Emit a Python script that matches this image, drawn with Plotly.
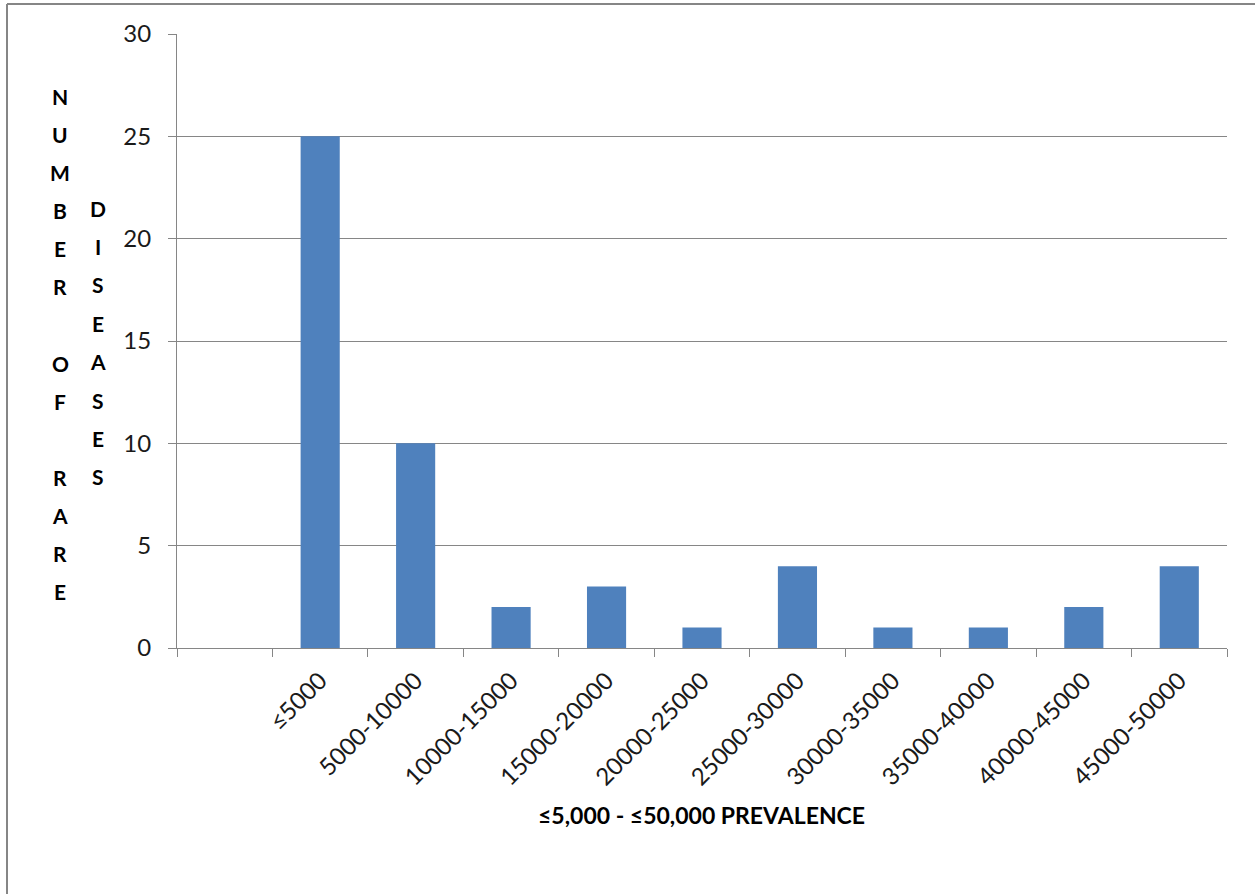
import plotly.graph_objects as go

categories = [" ", "≤5000", "5000-10000", "10000-15000", "15000-20000", "20000-25000",
              "25000-30000", "30000-35000", "35000-40000", "40000-45000", "45000-50000"]
counts = [None, 25, 10, 2, 3, 1, 4, 1, 1, 2, 4]
y_ticks = [0, 5, 10, 15, 20, 25, 30]
x_title = "≤5,000 - ≤50,000 PREVALENCE"
y_title_col1 = list("NUMBER") + [" "] + list("OF") + [" "] + list("RARE")
y_title_col2 = list("DISEASES")

W, H = 1255, 894
L, R, T, B = 177, 1227, 34, 648
FONT = "Lato"
GRID = "#868686"

def pxx(px):
    return (px - L) / (R - L)

def pxy(py):
    return (B - py) / (B - T)

fig = go.Figure()
fig.add_trace(go.Bar(x=categories, y=counts, marker=dict(color="#4F81BD", line=dict(width=0)),
                     hoverinfo="x+y"))

annotations = []
for i, ch in enumerate(y_title_col1):
    if ch.strip():
        annotations.append(dict(text=ch, x=pxx(60), y=pxy(96 + i * 38.15), xref="paper", yref="paper",
                                showarrow=False, xanchor="center", yanchor="middle",
                                font=dict(family=FONT, size=21, color="#000000", weight="bold")))
for i, ch in enumerate(y_title_col2):
    annotations.append(dict(text=ch, x=pxx(98), y=pxy(208 + i * 38.4), xref="paper", yref="paper",
                            showarrow=False, xanchor="center", yanchor="middle",
                            font=dict(family=FONT, size=21, color="#000000", weight="bold")))
annotations.append(dict(text="<b>" + x_title + "</b>", x=pxx(701), y=pxy(815), xref="paper", yref="paper",
                        showarrow=False, xanchor="center", yanchor="middle",
                        font=dict(family=FONT, size=23, color="#000000")))

shapes = [
    dict(type="line", xref="paper", yref="paper", x0=pxx(7), x1=pxx(7), y0=pxy(4), y1=pxy(H + 10),
         line=dict(color=GRID, width=2)),
    dict(type="line", xref="paper", yref="paper", x0=pxx(7), x1=pxx(W + 10), y0=pxy(4), y1=pxy(4),
         line=dict(color=GRID, width=2)),
]

fig.update_layout(
    width=W, height=H,
    margin=dict(l=L, r=W - R, t=T, b=H - B, pad=0),
    paper_bgcolor="white", plot_bgcolor="white",
    bargap=0.59,
    showlegend=False,
    font=dict(family=FONT, size=24, color="#1a1a1a"),
    annotations=annotations,
    shapes=shapes,
    xaxis=dict(type="category", categoryorder="array", categoryarray=categories,
               tickson="boundaries", ticks="outside", ticklen=8, tickcolor=GRID, tickwidth=1,
               showline=True, linecolor=GRID, linewidth=1, showgrid=False,
               tickangle=-45, ticklabelstandoff=8, fixedrange=True),
    yaxis=dict(range=[0, 30], tickvals=y_ticks, ticks="outside", ticklen=8, tickcolor=GRID,
               showline=True, linecolor=GRID, linewidth=1, showgrid=True, gridcolor=GRID,
               gridwidth=1, zeroline=False, ticklabelstandoff=12, fixedrange=True),
)

fig.write_html("out.html")
